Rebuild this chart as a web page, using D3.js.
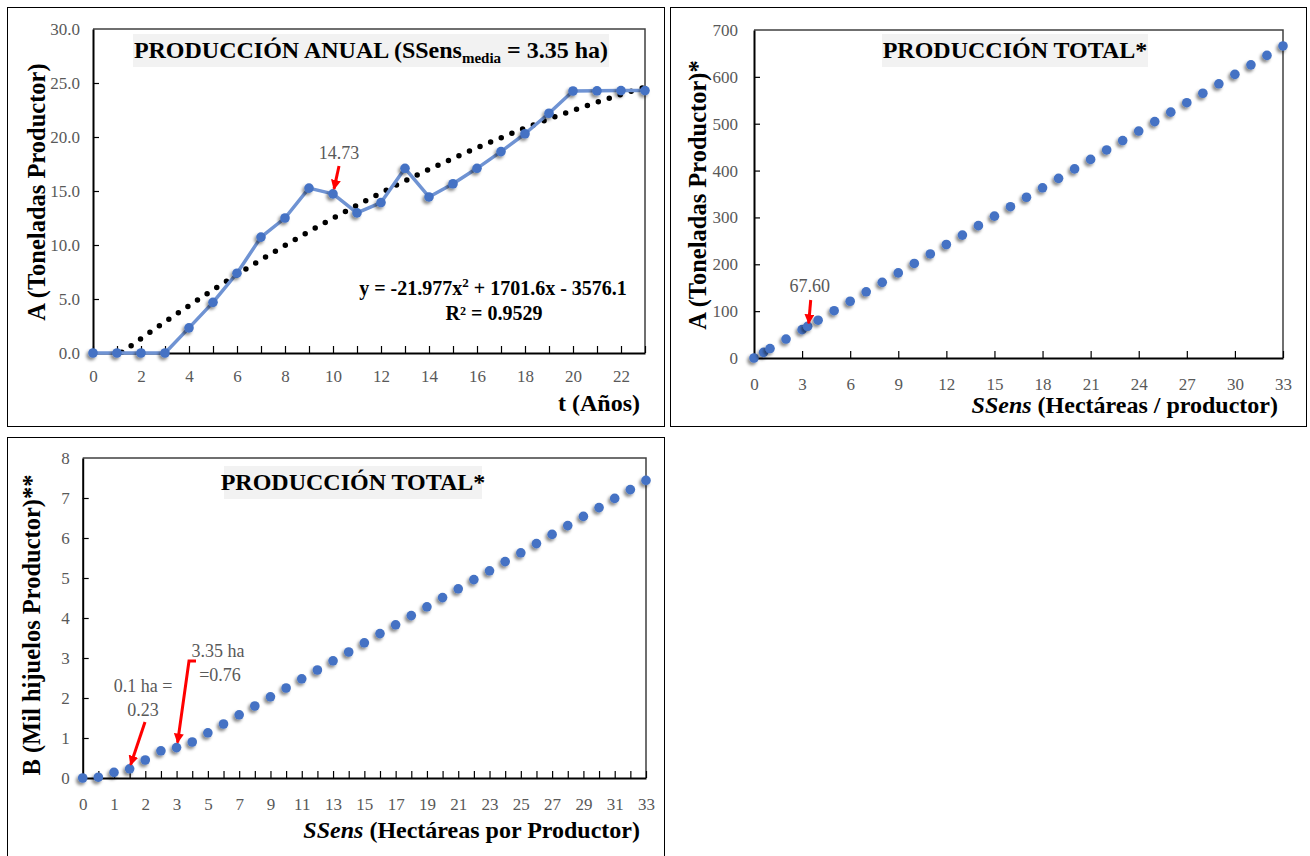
<!DOCTYPE html>
<html><head><meta charset="utf-8">
<script src="https://cdn.jsdelivr.net/npm/d3@7"></script>
<style>
body{margin:0;background:#fff;}
text{font-family:"Liberation Serif","Times New Roman",serif;}
</style>
</head><body>
<svg id="c" width="1310" height="856"></svg>
<script>
// ---------- Chart 1: PRODUCCIÓN ANUAL ----------
const years1 = [0,1,2,3,4,5,6,7,8,9,10,11,12,13,14,15,16,17,18,19,20,21,22,23];
const annualTons = [0,0,0,0,2.33,4.69,7.39,10.73,12.50,15.27,14.73,12.97,13.93,17.10,14.45,15.67,17.10,18.65,20.30,22.20,24.26,24.28,24.30,24.30];
const yTicks1 = [0,5,10,15,20,25,30];
const trendCoef = [-21.977, 1701.6, -3576.1]; // kg, x = category position (t+1)

// ---------- Chart 2: PRODUCCIÓN TOTAL (toneladas) ----------
const ssens2 = [0,0.6,1,2,3,3.35,4,5,6,7,8,9,10,11,12,13,14,15,16,17,18,19,20,21,22,23,24,25,26,27,28,29,30,31,32,33];
const totalTons2 = [0,12.1,20.2,40.4,60.5,67.6,80.7,100.9,121.1,141.3,161.4,181.6,201.8,222.0,242.2,262.3,282.5,302.7,322.9,343.1,363.2,383.4,403.6,423.8,444.0,464.1,484.3,504.5,524.7,544.9,565.0,585.2,605.4,625.6,645.8,665.9];
const xTicks2 = [0,3,6,9,12,15,18,21,24,27,30,33];
const yTicks2 = [0,100,200,300,400,500,600,700];

// ---------- Chart 3: PRODUCCIÓN TOTAL (mil hijuelos) ----------
const categories3 = [0,0.5,1,1.5,2,2.5,3.35,4,5,6,7,8,9,10,11,12,13,14,15,16,17,18,19,20,21,22,23,24,25,26,27,28,29,30,31,32,33];
const hijuelos3 = [0,0.02,0.14,0.23,0.45,0.68,0.76,0.90,1.13,1.35,1.58,1.80,2.03,2.25,2.48,2.70,2.93,3.15,3.38,3.61,3.83,4.06,4.28,4.51,4.73,4.96,5.18,5.41,5.63,5.86,6.09,6.31,6.54,6.76,6.99,7.21,7.44];
const yTicks3 = [0,1,2,3,4,5,6,7,8];

const BLUE = "#4472C4", LINE = "#6f93d3", GRAY = "#595959", RED = "#ff0000";
const svg = d3.select("#c");
const defs = svg.append("defs");
const f = defs.append("filter").attr("id","sh").attr("x","-60%").attr("y","-60%").attr("width","220%").attr("height","220%");
f.append("feDropShadow").attr("dx",-2).attr("dy",2.5).attr("stdDeviation",1.8).attr("flood-color","#000").attr("flood-opacity",0.45);
defs.append("marker").attr("id","arr").attr("viewBox","0 0 10 10").attr("refX",9).attr("refY",5)
  .attr("markerWidth",10).attr("markerHeight",10).attr("markerUnits","userSpaceOnUse").attr("orient","auto")
  .append("path").attr("d","M0,0 L10,5 L0,10 Z").attr("fill",RED);

svg.append("rect").attr("width",1310).attr("height",856).attr("fill","#fff");

function frame(x,y,w,h){
  svg.append("rect").attr("x",x+0.5).attr("y",y+0.5).attr("width",w).attr("height",h)
    .attr("fill","none").attr("stroke","#000").attr("stroke-width",1);
}
function plotBox(g,L,R,T,B){
  g.append("path").attr("d",`M${L},${T}H${R}V${B}`).attr("fill","none").attr("stroke","#404040").attr("stroke-width",1.5);
}
function styleAxis(sel){
  sel.select(".domain").attr("stroke","#000").attr("stroke-width",2);
  sel.selectAll(".tick line").attr("stroke","#000").attr("stroke-width",1.2);
  sel.selectAll(".tick text").attr("fill",GRAY).style("font-size","17px").style("font-family","'Liberation Serif',serif");
}
function titleBox(cx, y0, w, h, parts){
  const g = svg.append("g");
  g.append("rect").attr("x",cx-w/2).attr("y",y0).attr("width",w).attr("height",h).attr("fill","#f2f2f2");
  const t = g.append("text").attr("x",cx).attr("y",y0+h-9).attr("text-anchor","middle")
    .style("font-size","24px").style("font-weight","bold").attr("fill","#000");
  parts(t);
}
function yTitle(x, cy, txt){
  svg.append("text").attr("transform",`translate(${x},${cy}) rotate(-90)`).attr("text-anchor","middle")
    .style("font-size","24.5px").style("font-weight","bold").attr("fill","#000").text(txt);
}
function arrow(pts){
  svg.append("path").attr("d", d3.line()(pts)).attr("fill","none").attr("stroke",RED).attr("stroke-width",3)
    .attr("marker-end","url(#arr)");
}

// ===== Chart 1 =====
frame(7,7,657,419);
{
  const L=93,R=645,T=29,B=353;
  const x = d3.scaleLinear().domain([0,23]).range([L,R]);
  const y = d3.scaleLinear().domain([0,30]).range([B,T]);
  const g = svg.append("g");
  plotBox(g,L,R,T,B);
  const ax = g.append("g").attr("transform",`translate(0,${B})`)
    .call(d3.axisBottom(x).tickValues(years1).tickSize(-7).tickSizeOuter(0).tickPadding(17)
      .tickFormat(d => d%2===0 ? d : ""));
  styleAxis(ax);
  const ay = g.append("g").attr("transform",`translate(${L},0)`)
    .call(d3.axisLeft(y).tickValues(yTicks1).tickSize(-6).tickSizeOuter(0).tickPadding(13).tickFormat(d3.format(".1f")));
  styleAxis(ay);
  ay.selectAll(".tick line").filter(d=>d===0||d===30).remove();

  // trendline (polynomial order 2, Excel category positions t+1, kg -> t)
  const tr = [];
  for (let t=0; t<=23.0001; t+=0.05){
    const p=t+1, v=(trendCoef[0]*p*p + trendCoef[1]*p + trendCoef[2])/1000;
    if (v>=0) tr.push([x(t), y(v)]);
  }
  g.append("path").attr("d", d3.line()(tr)).attr("fill","none").attr("stroke","#000")
    .attr("stroke-width",5.5).attr("stroke-linecap","round").attr("stroke-dasharray","0 11.5");

  const line = d3.line().x((d,i)=>x(years1[i])).y(d=>y(d));
  g.append("path").attr("d", line(annualTons)).attr("fill","none").attr("stroke",LINE).attr("stroke-width",3.5)
    .attr("stroke-linejoin","round");
  g.selectAll("circle.p").data(annualTons).enter().append("circle")
    .attr("cx",(d,i)=>x(years1[i])).attr("cy",d=>y(d)).attr("r",4.8).attr("fill",BLUE).attr("filter","url(#sh)");

  titleBox(371, 34, 476, 33, t=>{
    t.append("tspan").text("PRODUCCIÓN ANUAL (SSens");
    t.append("tspan").attr("dy",5).style("font-size","15px").text("media");
    t.append("tspan").attr("dy",-5).text(" = 3.35 ha)");
  });
  yTitle(45, 192, "A (Toneladas Productor)");
  svg.append("text").attr("x",640).attr("y",411).attr("text-anchor","end").style("font-size","24px")
    .style("font-weight","bold").text("t (Años)");

  svg.append("text").attr("x",493).attr("y",295).attr("text-anchor","middle").style("font-size","20px")
    .style("font-weight","bold").html('y = -21.977x<tspan dy="-8" style="font-size:13px">2</tspan><tspan dy="8"> + 1701.6x - 3576.1</tspan>');
  svg.append("text").attr("x",494).attr("y",320).attr("text-anchor","middle").style("font-size","20px")
    .style("font-weight","bold").text("R² = 0.9529");

  svg.append("text").attr("x",x(10)+6).attr("y",159).attr("text-anchor","middle").style("font-size","18px")
    .attr("fill",GRAY).text("14.73");
  arrow([[x(10)+6,166],[x(10)+1,y(14.73)-5]]);
}

// ===== Chart 2 =====
frame(670,7,636,419);
{
  const L=754,R=1283,T=30,B=358;
  const x = d3.scaleLinear().domain([0,33]).range([L,R]);
  const y = d3.scaleLinear().domain([0,700]).range([B,T]);
  const g = svg.append("g");
  plotBox(g,L,R,T,B);
  const ax = g.append("g").attr("transform",`translate(0,${B})`)
    .call(d3.axisBottom(x).tickValues(xTicks2).tickSize(-7).tickSizeOuter(0).tickPadding(20));
  styleAxis(ax);
  ax.selectAll(".tick line").filter(d=>d===0).remove();
  const ay = g.append("g").attr("transform",`translate(${L},0)`)
    .call(d3.axisLeft(y).tickValues(yTicks2).tickSize(-6).tickSizeOuter(0).tickPadding(16));
  styleAxis(ay);
  ay.selectAll(".tick line").filter(d=>d===0||d===700).remove();
  g.selectAll("circle.p").data(totalTons2).enter().append("circle")
    .attr("cx",(d,i)=>x(ssens2[i])).attr("cy",d=>y(d)).attr("r",4.8).attr("fill",BLUE).attr("filter","url(#sh)");

  titleBox(1015, 34, 266, 33, t=>t.text("PRODUCCIÓN TOTAL*"));
  yTitle(706, 195, "A (Toneladas Productor)*");
  const xt = svg.append("text").attr("x",1278).attr("y",413).attr("text-anchor","end").style("font-size","24px")
    .style("font-weight","bold");
  xt.append("tspan").style("font-style","italic").text("SSens");
  xt.append("tspan").text(" (Hectáreas / productor)");

  svg.append("text").attr("x",x(3.35)+2).attr("y",292).attr("text-anchor","middle").style("font-size","18px")
    .attr("fill",GRAY).text("67.60");
  arrow([[x(3.35)+3,300],[x(3.35)+1,y(67.6)-3]]);
}

// ===== Chart 3 =====
frame(7,437,657,425);
{
  const L=82.7,R=646,T=458,B=778;
  const idx = categories3.map((d,i)=>i);
  const x = d3.scalePoint().domain(idx).range([L,R]);
  const y = d3.scaleLinear().domain([0,8]).range([B,T]);
  const g = svg.append("g");
  plotBox(g,L,R,T,B);
  const ax = g.append("g").attr("transform",`translate(0,${B})`)
    .call(d3.axisBottom(x).tickSize(-7).tickSizeOuter(0).tickPadding(20)
      .tickFormat(i => i%2===0 ? d3.format(".0f")(categories3[i]) : ""));
  styleAxis(ax);
  ax.selectAll(".tick line").filter(d=>d===0).remove();
  const ay = g.append("g").attr("transform",`translate(${L},0)`)
    .call(d3.axisLeft(y).tickValues(yTicks3).tickSize(-6).tickSizeOuter(0).tickPadding(13));
  styleAxis(ay);
  ay.selectAll(".tick line").filter(d=>d===0||d===8).remove();
  g.selectAll("circle.p").data(hijuelos3).enter().append("circle")
    .attr("cx",(d,i)=>x(i)).attr("cy",d=>y(d)).attr("r",4.8).attr("fill",BLUE).attr("filter","url(#sh)");

  titleBox(353, 466, 258, 33, t=>t.text("PRODUCCIÓN TOTAL*"));
  yTitle(40, 625, "B (Mil hijuelos Productor)**");
  const xt = svg.append("text").attr("x",640).attr("y",838).attr("text-anchor","end").style("font-size","24px")
    .style("font-weight","bold");
  xt.append("tspan").style("font-style","italic").text("SSens");
  xt.append("tspan").text(" (Hectáreas por Productor)");

  svg.append("text").attr("x",143).attr("y",692).attr("text-anchor","middle").style("font-size","18px")
    .attr("fill",GRAY).text("0.1 ha =");
  svg.append("text").attr("x",143).attr("y",716).attr("text-anchor","middle").style("font-size","18px")
    .attr("fill",GRAY).text("0.23");
  arrow([[145,722],[x(3)+1,y(0.23)-4]]);
  svg.append("text").attr("x",218).attr("y",657).attr("text-anchor","middle").style("font-size","18px")
    .attr("fill",GRAY).text("3.35 ha");
  svg.append("text").attr("x",220).attr("y",681).attr("text-anchor","middle").style("font-size","18px")
    .attr("fill",GRAY).text("=0.76");
  arrow([[196,661],[189,661],[x(6)+1,y(0.76)-5]]);
}
</script>
</body></html>
